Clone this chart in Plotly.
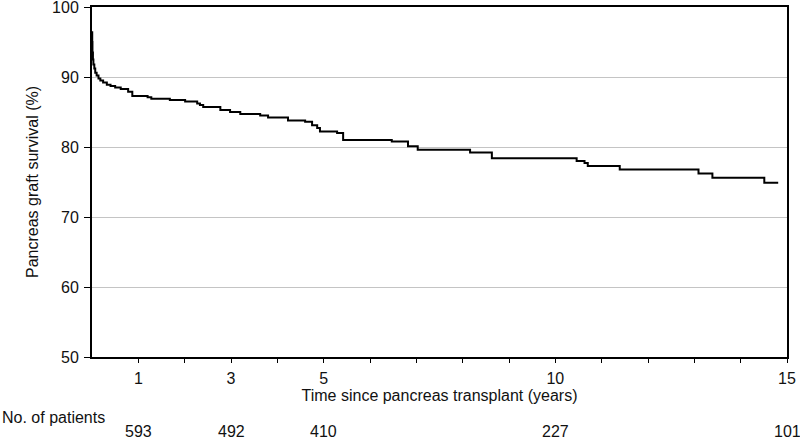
import plotly.graph_objects as go

# Kaplan-Meier step data (time in years, survival %)
time_years = [0, 0.005, 0.01, 0.02, 0.03, 0.05, 0.07, 0.10, 0.14, 0.18, 0.24, 0.32, 0.40,
              0.50, 0.62, 0.78, 0.87, 1.20, 1.28, 1.68, 2.01, 2.27, 2.33, 2.40, 2.77,
              2.98, 3.20, 3.63, 3.80, 4.23, 4.60, 4.75, 4.86, 4.92, 5.29, 5.42, 6.47,
              6.82, 7.03, 8.16, 8.63, 10.46, 10.63, 10.70, 11.39, 13.09, 13.39, 14.51, 14.81]
survival = [96.4, 95.0, 93.5, 92.5, 91.8, 91.2, 90.6, 90.2, 89.8, 89.5, 89.2, 88.9, 88.7,
            88.5, 88.3, 87.9, 87.3, 87.1, 86.9, 86.7, 86.5, 86.2, 86.0, 85.7, 85.3,
            85.0, 84.7, 84.5, 84.2, 83.8, 83.6, 83.1, 82.7, 82.2, 82.0, 81.0, 80.8,
            80.1, 79.6, 79.2, 78.4, 78.0, 77.7, 77.3, 76.8, 76.2, 75.6, 74.9, 74.9]

x_tickvals = list(range(1, 16))
x_ticktext = ["1", "", "3", "", "5", "", "", "", "", "10", "", "", "", "", "15"]
y_tickvals = [50, 60, 70, 80, 90, 100]

risk_times = [1, 3, 5, 10, 15]
risk_counts = [593, 492, 410, 227, 101]

FONT = "Liberation Sans, Arial, sans-serif"
TXT = "#111111"

W, H = 800, 441
ML, MR, MT, MB = 92, 13, 7, 84
plot_h = H - MT - MB
plot_w = W - ML - MR

fig = go.Figure()
fig.add_trace(go.Scatter(
    x=time_years, y=survival, mode="lines", line_shape="hv",
    line=dict(color="black", width=2), hoverinfo="skip", showlegend=False))

fig.update_layout(
    width=W, height=H,
    margin=dict(l=ML, r=MR, t=MT, b=MB, autoexpand=False),
    paper_bgcolor="white", plot_bgcolor="white",
    font=dict(family=FONT, size=16, color=TXT),
    xaxis=dict(range=[0, 15], tickvals=x_tickvals, ticktext=x_ticktext,
               ticks="outside", ticklen=4, tickwidth=1, tickcolor="black",
               showline=True, linecolor="black", linewidth=2, mirror=True,
               showgrid=False, zeroline=False, ticklabelstandoff=2, automargin=False,
               ticklabeloverflow="allow",
               title=dict(text="Time since pancreas transplant (years)",
                          font=dict(size=16), standoff=0)),
    yaxis=dict(range=[50, 100], tickvals=y_tickvals,
               ticks="outside", ticklen=6, tickwidth=1, tickcolor="black",
               showline=True, linecolor="black", linewidth=2, mirror=True,
               showgrid=True, gridcolor="#c4c4c4", gridwidth=1, zeroline=False,
               ticklabelstandoff=2, automargin=False, ticklabeloverflow="allow",
               title=dict(text="Pancreas graft survival (%)",
                          font=dict(size=16), standoff=9)),
)

def py(px):
    return (H - MB - px) / plot_h

fig.add_annotation(text="No. of patients", xref="paper", yref="paper",
                   x=(0 - ML) / plot_w, y=py(417), xanchor="left", yanchor="middle",
                   showarrow=False, font=dict(size=16))
for t, n in zip(risk_times, risk_counts):
    fig.add_annotation(text=str(n), xref="x", yref="paper", x=t, y=py(432),
                       xanchor="center", yanchor="middle", showarrow=False,
                       font=dict(size=16))

fig.write_html("out.html", config={"displayModeBar": False},
               post_script="document.body.style.margin='0';document.body.style.overflow='hidden';")
